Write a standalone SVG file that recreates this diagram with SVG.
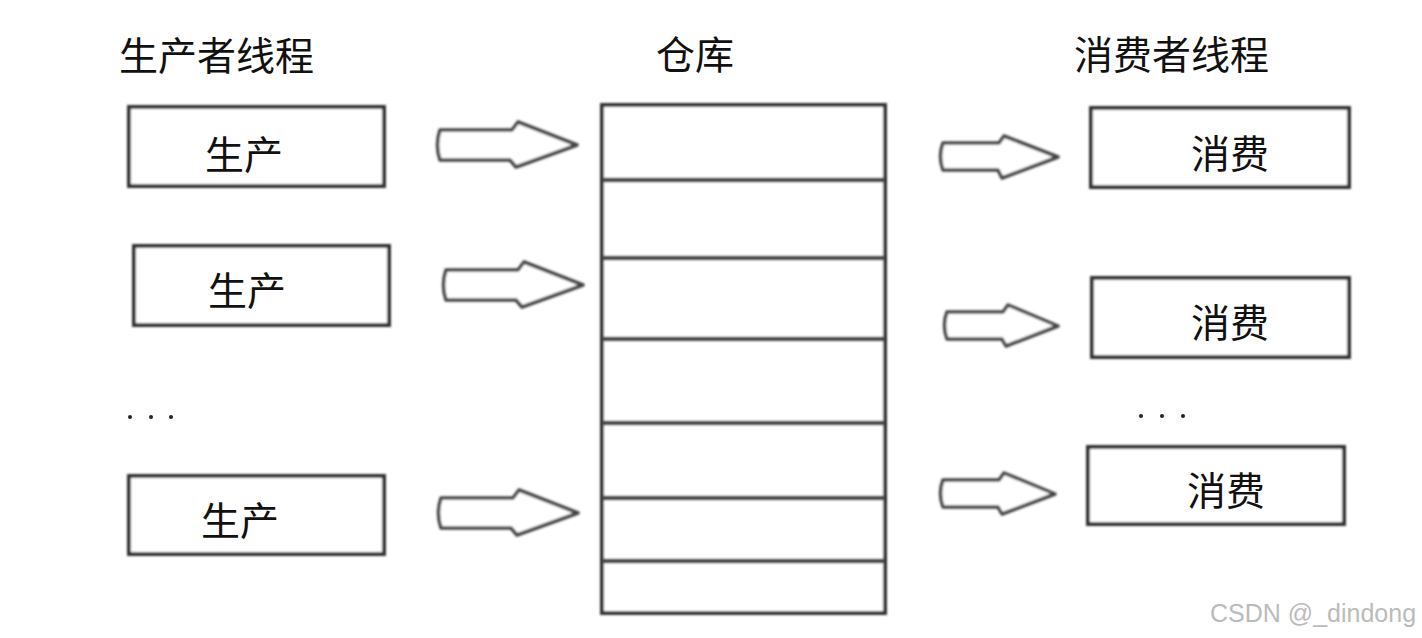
<svg xmlns="http://www.w3.org/2000/svg" width="1422" height="638" viewBox="0 0 1422 638">
<defs>
<filter id="soft" filterUnits="userSpaceOnUse" x="0" y="0" width="1422" height="638"><feGaussianBlur stdDeviation="0.9"/></filter>
<style>
.t{font-family:"Noto Sans CJK SC","Noto Sans",sans-serif;fill:#111;}
.title{font-size:39px;}
.lbl{font-size:39px;text-anchor:middle;}
.box{fill:#fff;stroke:#333;stroke-width:4;filter:url(#soft);}
.line{stroke:#333;stroke-width:3.5;filter:url(#soft);}
.arr{fill:#fff;stroke:#444;stroke-width:3.5;stroke-linejoin:round;filter:url(#soft);}
.dot{fill:#222;}
</style>
</defs>
<rect width="1422" height="638" fill="#fff"/>
<g id="titles">
<text class="t title" x="119" y="70">生产者线程</text>
<text class="t title" x="656" y="69">仓库</text>
<text class="t title" x="1074" y="69">消费者线程</text>
</g>
<g id="producer1"><rect class="box" x="129" y="107" width="255" height="79"/><text class="t lbl" x="244" y="169">生产</text></g>
<g id="producer2"><rect class="box" x="134" y="246" width="255" height="79"/><text class="t lbl" x="247" y="305">生产</text></g>
<g id="producer3"><rect class="box" x="129" y="476" width="255" height="78"/><text class="t lbl" x="240" y="535">生产</text></g>
<g id="dots-left"><circle class="dot" cx="130" cy="417" r="2"/><circle class="dot" cx="151" cy="417" r="2"/><circle class="dot" cx="171" cy="417" r="2"/></g>
<g id="warehouse">
<rect class="box" x="602" y="105" width="283" height="508"/>
<line class="line" x1="602" y1="180" x2="885" y2="180"/>
<line class="line" x1="602" y1="258" x2="885" y2="258"/>
<line class="line" x1="602" y1="339" x2="885" y2="339"/>
<line class="line" x1="602" y1="423" x2="885" y2="423"/>
<line class="line" x1="602" y1="498" x2="885" y2="498"/>
<line class="line" x1="602" y1="561" x2="885" y2="561"/>
</g>
<g id="consumer1"><rect class="box" x="1091" y="108" width="258" height="79"/><text class="t lbl" x="1230" y="168">消费</text></g>
<g id="consumer2"><rect class="box" x="1092" y="278" width="257" height="79"/><text class="t lbl" x="1230" y="337">消费</text></g>
<g id="consumer3"><rect class="box" x="1088" y="447" width="256" height="77"/><text class="t lbl" x="1226" y="505">消费</text></g>
<g id="dots-right"><circle class="dot" cx="1141" cy="416" r="2"/><circle class="dot" cx="1162" cy="416" r="2"/><circle class="dot" cx="1183" cy="416" r="2"/></g>
<g id="connectors">
<path class="arr" d="M440,130 L512,130 L518,122 L577,145 L516,167 L510,160 L440,160 Q435,145 440,130 Z"/>
<path class="arr" d="M446,270 L518,270 L524,262 L583,285 L522,307 L516,300 L446,300 Q441,285 446,270 Z"/>
<path class="arr" d="M441,498 L513,498 L519,490 L578,513 L517,535 L511,528 L441,528 Q436,513 441,498 Z"/>
<path class="arr" d="M943,143 L999,143 L1004,136 L1058,157 L1002,178 L998,170 L943,170 Q938,156 943,143 Z"/>
<path class="arr" d="M947,312 L1003,312 L1008,305 L1058,326 L1006,346 L1002,339 L947,339 Q942,325 947,312 Z"/>
<path class="arr" d="M943,480 L999,480 L1004,473 L1055,494 L1002,514 L998,507 L943,507 Q938,493 943,480 Z"/>
</g>
<text x="1210" y="622" style="font-family:'Liberation Sans',Arial,sans-serif;font-size:25px;fill:#bbb;">CSDN @_dindong</text>
</svg>
